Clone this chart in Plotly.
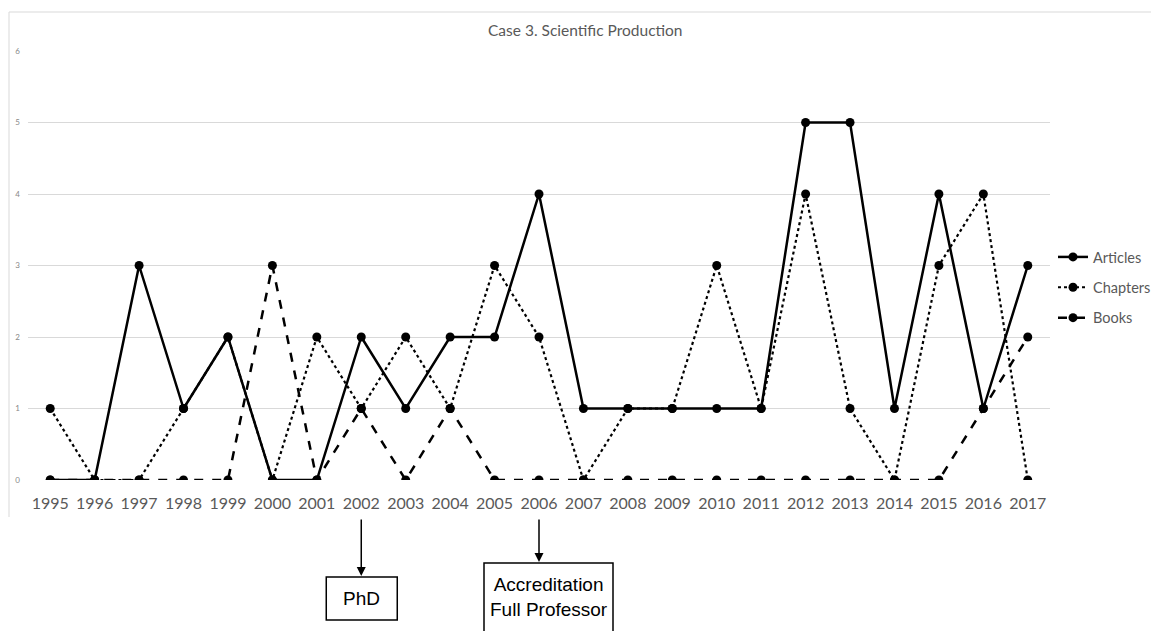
import plotly.graph_objects as go

years = list(range(1995, 2018))
articles = [0, 0, 3, 1, 2, 0, 0, 2, 1, 2, 2, 4, 1, 1, 1, 1, 1, 5, 5, 1, 4, 1, 3]
chapters = [1, 0, 0, 1, 2, 0, 2, 1, 2, 1, 3, 2, 0, 1, 1, 3, 1, 4, 1, 0, 3, 4, 0]
books = [0, 0, 0, 0, 0, 3, 0, 1, 0, 1, 0, 0, 0, 0, 0, 0, 0, 0, 0, 0, 0, 1, 2]
y_ticks = [0, 1, 2, 3, 4, 5, 6]
title_text = "Case 3. Scientific Production"

# the page body adds an 8px offset; work in screen pixels and convert
OFF = 8
W, H = 1159 - OFF, 631 - OFF
L, R, T, B = 28 - OFF, 1050 - OFF, 51 - OFF, 480 - OFF
ph = B - T


def py(p):
    return (B - (p - OFF)) / ph


def px(p):
    return ((p - OFF) - L) / (R - L)


fig = go.Figure()
series = [
    ("Articles", articles, "solid", 2.5),
    ("Chapters", chapters, "dot", 2.2),
    ("Books", books, "dash", 2.5),
]
for name, vals, dash, w in series:
    fig.add_trace(go.Scatter(
        x=years, y=vals, name=name, mode="lines+markers",
        line=dict(color="black", width=w, dash=dash),
        marker=dict(color="black", size=9),
        legendgroup=name,
    ))

gray = "#d9d9d9"
shapes = [
    dict(type="line", xref="paper", yref="paper", x0=px(9), x1=px(9), y0=py(12), y1=py(517),
         line=dict(color=gray, width=1)),
    dict(type="line", xref="paper", yref="paper", x0=px(9), x1=px(1200), y0=py(12), y1=py(12),
         line=dict(color=gray, width=1)),
    dict(type="rect", xref="x", xsizemode="pixel", xanchor=2002, x0=-35, x1=36,
         yref="paper", y0=py(577), y1=py(620), line=dict(color="black", width=1.5)),
    dict(type="rect", xref="x", xsizemode="pixel", xanchor=2006, x0=-55, x1=74,
         yref="paper", y0=py(563), y1=py(660), line=dict(color="black", width=1.5)),
]

annotations = [
    dict(text=title_text, xref="paper", yref="paper", x=px(585), y=py(30),
         xanchor="center", yanchor="middle",
         showarrow=False, font=dict(size=15.5, color="#595959", family="Lato")),
    dict(x=2002, y=py(576), xref="x", yref="paper", ax=0, ay=-(576 - 518),
         text="", showarrow=True, arrowhead=2, arrowsize=1.2, arrowwidth=1.5, arrowcolor="black"),
    dict(x=2006, y=py(562), xref="x", yref="paper", ax=0, ay=-(562 - 518),
         text="", showarrow=True, arrowhead=2, arrowsize=1.2, arrowwidth=1.5, arrowcolor="black"),
    dict(text="PhD", x=2002, xref="x", xshift=0.5, y=py(598), yref="paper", showarrow=False,
         xanchor="center", yanchor="middle",
         font=dict(size=19, color="black", family="Liberation Sans")),
    dict(text="Accreditation<br>Full Professor", x=2006, xref="x", xshift=10, y=py(597), yref="paper",
         xanchor="center", yanchor="middle", showarrow=False,
         font=dict(size=19, color="black", family="Liberation Sans")),
]

fig.update_layout(
    width=W, height=H,
    margin=dict(l=L, r=W - R, t=T, b=H - B, autoexpand=False),
    plot_bgcolor="white", paper_bgcolor="white",
    showlegend=True,
    legend=dict(xref="container", yref="container",
                x=(1053 - OFF) / W, y=1 - (241 - OFF) / H, xanchor="left", yanchor="top",
                font=dict(size=14.5, color="#595959", family="Lato"),
                tracegroupgap=8.5, bgcolor="rgba(0,0,0,0)"),
    xaxis=dict(range=[1994.5, 2017.5], tickmode="array", tickvals=years,
               ticktext=[str(y) for y in years], showgrid=False, zeroline=False,
               showline=False, ticks="", ticklabelstandoff=12,
               tickfont=dict(size=16, color="#595959", family="Lato")),
    yaxis=dict(range=[0, 6], tickvals=y_ticks, showgrid=True, gridcolor=gray, gridwidth=1,
               zeroline=False, showline=False, ticks="", ticklabelstandoff=7,
               tickfont=dict(size=8, color="#888888", family="Lato")),
    shapes=shapes,
    annotations=annotations,
)

fig.write_html("out.html")
